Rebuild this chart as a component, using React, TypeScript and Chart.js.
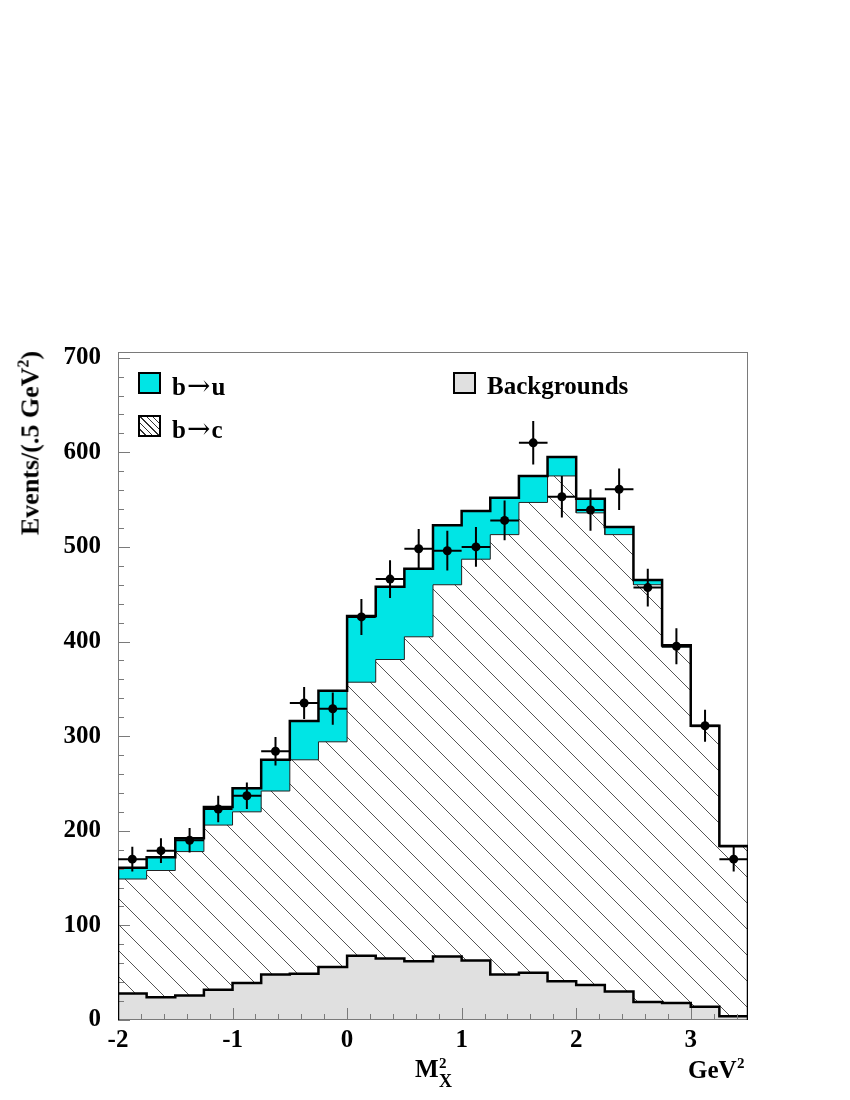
import React, { useEffect, useRef } from "react";
import { Chart, registerables } from "chart.js";

Chart.register(...registerables);

// ---- data ----
const binEdges = [-2, -1.75, -1.5, -1.25, -1, -0.75, -0.5, -0.25, 0, 0.25, 0.5, 0.75, 1, 1.25, 1.5, 1.75, 2, 2.25, 2.5, 2.75, 3, 3.25, 3.5];
const backgrounds = [28, 24, 26, 32, 39, 48, 49, 56, 68, 65, 62, 67, 63, 48, 50, 41, 37, 30, 19, 18, 14, 4];
const bToC = [121, 134, 152, 174, 181, 194, 226, 238, 289, 316, 343, 393, 424, 465, 497, 534, 499, 483, 441, 376, 296, 179];
const bToU = [12, 14, 14, 19, 25, 33, 41, 54, 70, 77, 72, 63, 51, 39, 28, 20, 15, 8, 5, 2, 1, 1];
const dataCounts = [170, 179, 190, 223, 237, 284, 335, 329, 426, 466, 498, 496, 500, 528, 610, 553, 539, 561, 457, 395, 311, 170];
const dataErrors = [13, 13, 13, 14, 14, 15, 17, 17, 19, 20, 21, 21, 21, 21, 23, 22, 22, 22, 20, 19, 17, 13];
const xTickValues = [-2, -1, 0, 1, 2, 3];
const yTickValues = [0, 100, 200, 300, 400, 500, 600, 700];
const xMinorStep = 0.2;
const yMinorStep = 20;
const xMin = -2;
const xMax = 3.5;
const yMin = 0;
const yMax = 706;

const SERIF = "'Liberation Serif', 'Times New Roman', serif";
const CYAN = "rgb(0, 229, 229)";
const GRAY = "#e0e0e0";

function stepPath(vals: number[]) {
  const pts: { x: number; y: number }[] = [];
  vals.forEach((v, i) => {
    pts.push({ x: binEdges[i], y: v });
    pts.push({ x: binEdges[i + 1], y: v });
  });
  return pts;
}

function makeHatch(size: number) {
  const c = document.createElement("canvas");
  c.width = size;
  c.height = size;
  const g = c.getContext("2d")!;
  g.fillStyle = "#ffffff";
  g.fillRect(0, 0, size, size);
  g.strokeStyle = "#555555";
  g.lineWidth = 1;
  g.beginPath();
  g.moveTo(-size, -size);
  g.lineTo(2 * size, 2 * size);
  g.moveTo(-size, 0);
  g.lineTo(size, 2 * size);
  g.moveTo(0, -size);
  g.lineTo(2 * size, size);
  g.stroke();
  return g.createPattern(c, "repeat")!;
}

export default function App() {
  const ref = useRef<HTMLCanvasElement>(null);

  useEffect(() => {
    const canvas = ref.current!;
    const hatch = makeHatch(26);

    const stackBC = bToC.map((v, i) => v + backgrounds[i]);
    const stackTotal = stackBC.map((v, i) => v + bToU[i]);
    const n = backgrounds.length;

    const outline = [{ x: binEdges[0], y: 0 }, ...stepPath(stackTotal), { x: binEdges[n], y: 0 }];

    const errPts: { x: number; y: number | null }[] = [];
    const dataPts: { x: number; y: number }[] = [];
    dataCounts.forEach((d, i) => {
      const lo = binEdges[i];
      const hi = binEdges[i + 1];
      const c = (lo + hi) / 2;
      const e = dataErrors[i];
      errPts.push({ x: c, y: d - e }, { x: c, y: d + e }, { x: c, y: null });
      errPts.push({ x: lo, y: d }, { x: hi, y: d }, { x: hi, y: null });
      dataPts.push({ x: c, y: d });
    });

    const OUTLINE_INDEX = 3;

    const frameTicks = {
      id: "frameTicks",
      beforeDatasetDraw(chart: any, args: any) {
        if (args.index !== OUTLINE_INDEX) return;
        const { ctx, chartArea: a, scales } = chart;
        const xs = scales.x;
        const ys = scales.y;
        ctx.save();
        ctx.strokeStyle = "#7a7a7a";
        ctx.lineWidth = 1;
        ctx.strokeRect(a.left + 0.5, a.top + 0.5, a.right - a.left - 1, a.bottom - a.top - 1);
        ctx.beginPath();
        const nx = Math.round((xMax - xMin) / xMinorStep);
        for (let k = 0; k <= nx; k++) {
          const v = xMin + k * xMinorStep;
          if (v > xMax + 1e-9) break;
          const major = Math.abs(v - Math.round(v)) < 1e-6;
          const px = Math.round(xs.getPixelForValue(v)) + 0.5;
          ctx.moveTo(px, a.bottom);
          ctx.lineTo(px, a.bottom - (major ? 12 : 6));
        }
        const ny = Math.round((yMax - yMin) / yMinorStep);
        for (let k = 0; k <= ny; k++) {
          const v = yMin + k * yMinorStep;
          if (v > yMax) break;
          const major = v % 100 === 0;
          const py = Math.round(ys.getPixelForValue(v)) + 0.5;
          ctx.moveTo(a.left, py);
          ctx.lineTo(a.left + (major ? 12 : 6), py);
        }
        ctx.stroke();
        ctx.restore();
      },
    };

    const chart = new Chart(canvas, {
      type: "line",
      data: {
        datasets: [
          {
            data: stepPath(stackTotal),
            fill: "origin",
            backgroundColor: CYAN,
            borderWidth: 0,
            borderColor: "rgba(0,0,0,0)",
            pointRadius: 0,
            order: 9,
          } as any,
          {
            data: stepPath(stackBC),
            fill: "origin",
            backgroundColor: hatch,
            borderColor: "#222222",
            borderWidth: 1,
            pointRadius: 0,
            order: 8,
          },
          {
            data: stepPath(backgrounds),
            fill: "origin",
            backgroundColor: GRAY,
            borderColor: "#000000",
            borderWidth: 2.5,
            pointRadius: 0,
            order: 7,
          },
          {
            data: outline,
            fill: false,
            borderColor: "#000000",
            borderWidth: 2.5,
            pointRadius: 0,
            order: 6,
          },
          {
            data: errPts as any,
            fill: false,
            borderColor: "#000000",
            borderWidth: 2,
            pointRadius: 0,
            spanGaps: false,
            order: 5,
          },
          {
            data: dataPts,
            showLine: false,
            pointRadius: 4.5,
            pointBackgroundColor: "#000000",
            pointBorderWidth: 0,
            order: 4,
          },
        ],
      },
      options: {
        animation: false,
        responsive: false,
        maintainAspectRatio: false,
        devicePixelRatio: 1,
        events: [],
        layout: { padding: { left: 0, top: 344, right: 60, bottom: 0 } },
        plugins: { legend: { display: false }, tooltip: { enabled: false } },
        scales: {
          x: {
            type: "linear",
            min: xMin,
            max: xMax,
            grid: { display: false, drawTicks: false },
            border: { display: false },
            afterBuildTicks: (s: any) => {
              s.ticks = xTickValues.map((v) => ({ value: v }));
            },
            afterFit: (s: any) => {
              s.height = 48;
            },
            ticks: {
              color: "#000",
              padding: 6,
              maxRotation: 0,
              autoSkip: false,
              font: { family: SERIF, size: 25, weight: "bold" },
              callback: (v: any) => String(v),
            },
          },
          y: {
            type: "linear",
            min: yMin,
            max: yMax,
            grid: { display: false, drawTicks: false },
            border: { display: false },
            afterBuildTicks: (s: any) => {
              s.ticks = yTickValues.map((v) => ({ value: v }));
            },
            afterFit: (s: any) => {
              s.width = 110;
            },
            ticks: {
              color: "#000",
              padding: 17,
              autoSkip: false,
              font: { family: SERIF, size: 25, weight: "bold" },
              callback: (v: any) => String(v),
            },
          },
        },
      },
      plugins: [frameTicks],
    });

    return () => chart.destroy();
  }, []);

  const txt: React.CSSProperties = {
    position: "absolute",
    fontFamily: SERIF,
    fontWeight: "bold",
    color: "#000",
    whiteSpace: "nowrap",
  };
  const box: React.CSSProperties = {
    position: "absolute",
    width: 23,
    height: 22,
    boxSizing: "border-box",
    border: "2px solid #000",
  };
  const arrow: React.CSSProperties = {
    fontFamily: "'DejaVu Serif', 'DejaVu Sans', serif",
    fontWeight: "normal",
    fontSize: 28,
    margin: "0 1px",
  };

  return (
    <div style={{ position: "relative", width: 834, height: 1084 }}>
      <canvas ref={ref} width={800} height={1060} style={{ position: "absolute", left: 0, top: 0, width: 800, height: 1060 }} />

      {/* y axis title */}
      <div
        style={{
          ...txt,
          left: 24,
          top: 435,
          fontSize: 26,
          lineHeight: "26px",
          transform: "translate(-50%, -50%) rotate(-90deg)",
        }}
      >
        Events/(.5 GeV<span style={{ fontSize: 16, position: "relative", top: -10 }}>2</span>)
      </div>

      {/* x axis title */}
      <div style={{ ...txt, left: 407, top: 1048, fontSize: 25, lineHeight: "25px" }}>M</div>
      <div style={{ ...txt, left: 431, top: 1048, fontSize: 15, lineHeight: "15px" }}>2</div>
      <div style={{ ...txt, left: 431, top: 1064, fontSize: 18, lineHeight: "18px" }}>X</div>
      <div style={{ ...txt, left: 680, top: 1049, fontSize: 25, lineHeight: "25px" }}>GeV</div>
      <div style={{ ...txt, left: 729, top: 1048, fontSize: 15, lineHeight: "15px" }}>2</div>

      {/* legend */}
      <div style={{ ...box, left: 130, top: 364, background: CYAN }} />
      <div style={{ ...txt, left: 164, top: 365, fontSize: 25, lineHeight: "25px" }}>
        b<span style={arrow}>→</span>u
      </div>
      <div
        style={{
          ...box,
          left: 130,
          top: 407,
          background: "repeating-linear-gradient(45deg, #ffffff 0px, #ffffff 3.5px, #333333 3.5px, #333333 4.5px)",
        }}
      />
      <div style={{ ...txt, left: 164, top: 408, fontSize: 25, lineHeight: "25px" }}>
        b<span style={arrow}>→</span>c
      </div>
      <div style={{ ...box, left: 445, top: 364, background: GRAY }} />
      <div style={{ ...txt, left: 479, top: 365, fontSize: 25, lineHeight: "25px" }}>Backgrounds</div>
    </div>
  );
}
